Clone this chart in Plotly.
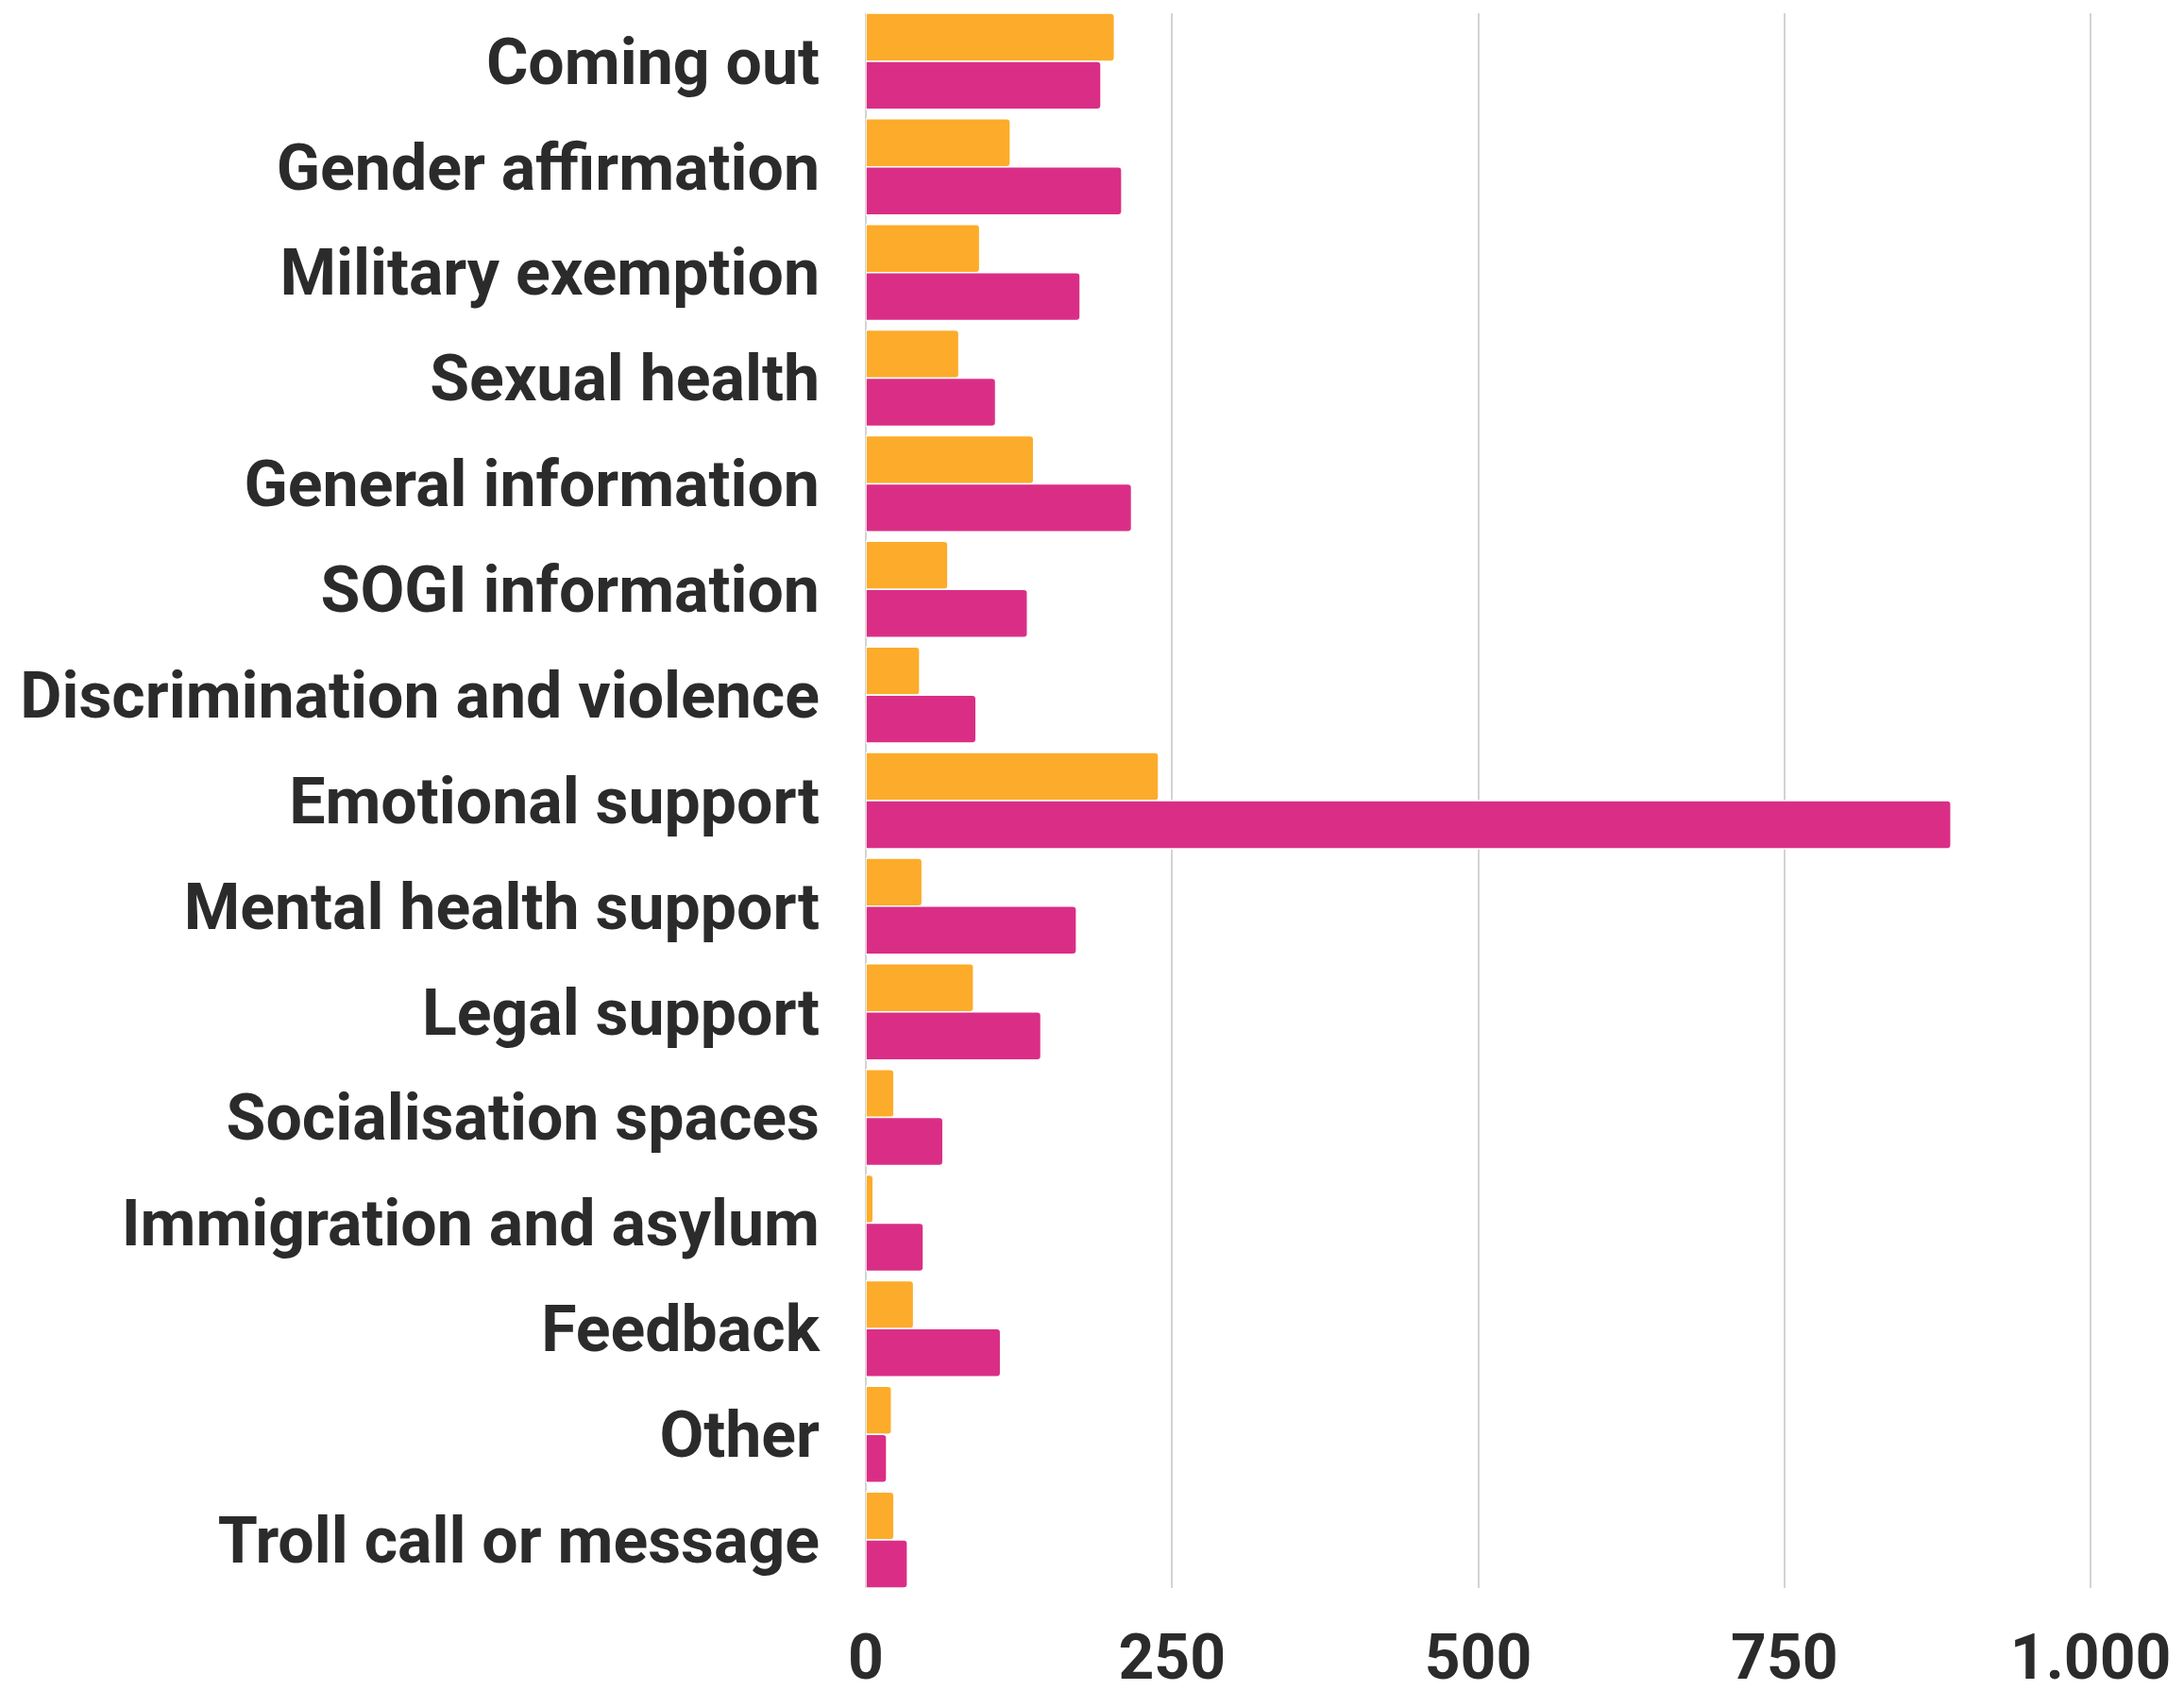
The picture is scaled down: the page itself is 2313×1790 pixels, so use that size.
import plotly.graph_objects as go

categories = [
    "Coming out", "Gender affirmation", "Military exemption", "Sexual health",
    "General information", "SOGI information", "Discrimination and violence",
    "Emotional support", "Mental health support", "Legal support",
    "Socialisation spaces", "Immigration and asylum", "Feedback", "Other",
    "Troll call or message",
]
orange_values = [203, 118, 93, 76, 137, 67, 44, 239, 46, 88, 23, 6, 39, 21, 23]
magenta_values = [192, 209, 175, 106, 217, 132, 90, 886, 172, 143, 63, 47, 110, 17, 34]
x_ticks = [0, 250, 500, 750, 1000]
x_tick_labels = ["0", "250", "500", "750", "1.000"]

ORANGE = "#FCAC2A"
MAGENTA = "#DA2E86"
TEXT = "#2B2B2B"
FONT = "Roboto"
BARGAP = 0.09

fig = go.Figure()
fig.add_trace(go.Bar(
    y=categories, x=orange_values, orientation="h", name="A",
    marker=dict(color=ORANGE, line=dict(color="white", width=1.5), cornerradius=4),
))
fig.add_trace(go.Bar(
    y=categories, x=magenta_values, orientation="h", name="B",
    marker=dict(color=MAGENTA, line=dict(color="white", width=1.5), cornerradius=4),
))

n = len(categories)
fig.update_layout(
    width=2313, height=1790,
    margin=dict(l=909, r=68, t=6, b=116),
    paper_bgcolor="white", plot_bgcolor="white",
    barmode="group", bargap=BARGAP, bargroupgap=0,
    showlegend=False,
    separators=",.",
    font=dict(family=FONT, color=TEXT),
)
fig.update_xaxes(
    range=[0, 1030], tickvals=x_ticks, ticktext=x_tick_labels,
    automargin=False,
    showgrid=True, gridcolor="#D3D3D3", gridwidth=1.5,
    zeroline=True, zerolinecolor="#D3D3D3", zerolinewidth=1.5,
    showline=False,
    ticks="outside", ticklen=16, tickcolor="rgba(0,0,0,0)",
    tickfont=dict(family=FONT, size=66, color=TEXT, weight="bold"),
)
fig.update_yaxes(
    range=[n - 0.5 - BARGAP / 2, -0.5 + BARGAP / 2],
    showgrid=False, showline=False, zeroline=False,
    automargin=False,
    ticks="", ticklabelstandoff=48,
    tickfont=dict(family=FONT, size=68, color=TEXT, weight="bold"),
)

fig.write_html("out.html")
